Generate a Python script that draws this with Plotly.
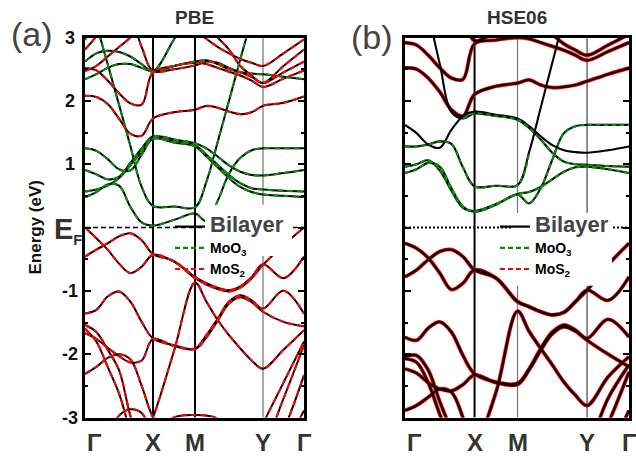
import plotly.graph_objects as go

# ---------------- data ----------------
K_LABELS = ["Γ", "X", "M", "Y", "Γ"]
K_NODES = [0.0, 0.3105, 0.5023, 0.8128, 1.0]
K = [0.0, 0.0518, 0.1035, 0.1553, 0.2070, 0.2588, 0.3105,
     0.4064, 0.5023,
     0.5541, 0.6058, 0.6576, 0.7093, 0.7611, 0.8128,
     0.9064, 1.0]

ENERGY_TICKS = [-3, -2, -1, 1, 2, 3]
ENERGY_MINOR = [-2.5, -1.5, -0.5, 0.5, 1.5, 2.5]

# PBE, MoO3 conduction bands (eV)
PBE_MOO3 = [
    [0.48, 0.56, 0.68, 0.66, 0.33, 0.08, 0.03, 0.12, 0.22, 0.10, 0.42, 0.85, 1.10, 1.22, 1.25, 1.25, 1.25],
    [0.57, 0.60, 0.66, 0.78, 0.98, 1.20, 1.41, 1.36, 1.30, 1.15, 0.99, 0.83, 0.70, 0.62, 0.60, 0.58, 0.57],
    [0.91, 0.84, 0.76, 0.80, 1.02, 1.25, 1.44, 1.39, 1.33, 1.25, 1.12, 0.98, 0.88, 0.83, 0.82, 0.86, 0.91],
    [1.25, 1.21, 1.08, 0.92, 0.90, 1.15, 1.40, 1.34, 1.28, 1.12, 0.95, 0.78, 0.64, 0.56, 0.52, 0.50, 0.48],
    [4.30, 3.25, 2.58, 1.94, 1.29, 0.64, 0.34, 0.33, 0.32, 0.72, 1.35, 2.00, 2.66, 3.30, 3.90, 4.40, 4.60],
    [2.62, 2.75, 2.79, 2.77, 2.70, 2.58, 2.47, 2.97, 3.50, 3.70, 3.80, 3.80, 3.70, 3.60, 3.50, 3.40, 3.30],
    [2.34, 2.42, 2.52, 2.58, 2.58, 2.52, 2.46, 2.55, 2.62, 2.64, 2.58, 2.50, 2.45, 2.43, 2.42, 2.38, 2.34],
]
# PBE, MoS2 bands (eV)
PBE_MOS2 = [
    [2.08, 2.06, 1.95, 1.72, 1.48, 1.45, 1.72, 1.82, 1.86, 1.92, 1.89, 1.83, 1.79, 1.82, 1.92, 1.97, 2.07],
    [2.52, 2.48, 2.32, 2.12, 1.96, 1.94, 2.45, 2.55, 2.60, 2.58, 2.52, 2.46, 2.40, 2.32, 2.22, 2.35, 2.48],
    [2.81, 3.02, 3.30, 3.40, 3.30, 2.85, 2.47, 2.50, 2.56, 2.62, 2.60, 2.52, 2.45, 2.38, 2.28, 2.45, 2.62],
    [2.47, 2.55, 2.70, 2.85, 3.00, 3.20, 3.30, 3.40, 3.40, 3.20, 3.00, 2.81, 2.55, 2.40, 2.28, 2.55, 2.81],
    [2.97, 3.20, 3.40, 3.50, 3.50, 3.40, 3.30, 3.20, 3.10, 2.98, 2.85, 2.75, 2.66, 2.60, 2.55, 2.75, 2.97],
    [0.00, -0.17, -0.35, -0.57, -0.72, -0.62, -0.43, -0.54, -0.80, -0.90, -0.97, -1.01, -0.95, -0.80, -0.59, -0.28, 0.00],
    [-0.46, -0.35, -0.25, -0.14, -0.09, -0.20, -0.42, -0.53, -0.78, -0.88, -0.95, -0.99, -0.93, -0.78, -0.58, -0.80, -0.46],
    [-3.80, -3.80, -3.80, -3.70, -3.60, -3.40, -3.00, -1.95, -0.87, -1.17, -1.46, -1.70, -1.91, -2.10, -2.23, -1.93, -1.62],
    [-1.36, -1.30, -1.09, -1.01, -1.17, -1.49, -1.75, -1.86, -1.91, -1.70, -1.44, -1.17, -1.07, -1.15, -1.28, -1.00, -1.36],
    [-1.67, -1.76, -1.90, -2.03, -2.13, -2.10, -1.76, -1.87, -1.92, -1.74, -1.47, -1.20, -1.10, -1.18, -1.33, -1.49, -1.56],
    [-1.54, -1.65, -1.93, -2.25, -2.97, -3.50, -3.80, -3.80, -3.80, -3.80, -3.80, -3.80, -3.70, -3.50, -3.10, -2.45, -1.80],
    [-1.60, -1.80, -2.20, -2.62, -3.20, -3.60, -3.80, -3.80, -3.80, -3.80, -3.80, -3.80, -3.80, -3.70, -3.50, -2.70, -1.86],
    [-2.31, -2.20, -2.06, -2.00, -2.08, -2.50, -3.00, -3.50, -3.80, -3.80, -3.80, -3.80, -3.80, -3.80, -3.80, -3.20, -2.33],
    [-3.80, -3.80, -3.80, -3.80, -3.80, -3.60, -3.30, -3.00, -2.96, -2.97, -3.02, -3.30, -3.60, -3.80, -3.80, -3.80, -3.80],
    [-3.60, -3.50, -3.30, -2.97, -2.87, -2.93, -3.30, -3.80, -3.80, -3.80, -3.80, -3.80, -3.80, -3.80, -4.00, -3.50, -2.89],
]

# HSE06, bilayer bands of MoO3 character (eV)
HSE_BILAYER_O3 = [
    [0.86, 0.92, 1.02, 0.96, 0.62, 0.33, 0.25, 0.36, 0.52, 0.38, 0.62, 1.07, 1.49, 1.60, 1.62, 1.62, 1.62],
    [0.96, 1.00, 1.06, 0.90, 0.58, 0.31, 0.26, 0.37, 0.53, 0.56, 0.64, 0.76, 0.88, 0.95, 0.96, 0.92, 0.86],
    [1.28, 1.28, 1.31, 1.36, 1.32, 0.95, 0.65, 0.66, 0.67, 1.19, 1.89, 2.60, 3.30, 3.90, 4.30, 4.50, 4.60],
    [4.30, 3.90, 3.35, 2.58, 1.82, 1.72, 1.80, 1.76, 1.70, 1.57, 1.39, 1.18, 1.04, 1.00, 0.99, 0.97, 0.96],
    [1.62, 1.49, 1.31, 1.26, 1.54, 1.76, 1.83, 1.78, 1.72, 1.60, 1.44, 1.30, 1.22, 1.19, 1.18, 1.22, 1.28],
]
# HSE06, MoO3 monolayer bands (None where not drawn)
HSE_MOO3 = [
    [0.86, 0.92, 1.02, 0.96, 0.62, 0.33, 0.25, 0.36, 0.52, 0.38, 0.62, 1.07, 1.49, 1.60, 1.62, 1.62, 1.62],
    [0.96, 1.00, 1.06, 0.90, 0.58, 0.31, 0.26, 0.37, 0.53, 0.56, 0.64, 0.76, 0.88, 0.95, 0.96, 0.92, 0.86],
    [1.28, 1.28, 1.31, 1.36, 1.32, 0.95, 0.65, 0.66, 0.67, 1.19, None, None, None, None, None, None, None],
    [None, None, None, None, None, 1.72, 1.80, 1.76, 1.70, 1.57, 1.39, 1.18, 1.04, 1.00, 0.99, 0.97, 0.96],
]
# HSE06, MoS2 bands (eV)
HSE_MOS2 = [
    [2.52, 2.50, 2.36, 2.14, 1.86, 1.76, 2.10, 2.23, 2.28, 2.33, 2.25, 2.21, 2.22, 2.25, 2.31, 2.42, 2.52],
    [2.92, 2.88, 2.72, 2.52, 2.36, 2.34, 2.90, 2.96, 3.00, 2.98, 2.92, 2.86, 2.80, 2.72, 2.64, 2.78, 2.92],
    [3.05, 3.20, 3.40, 3.50, 3.50, 3.30, 2.95, 3.10, 3.30, 3.30, 3.20, 3.05, 2.90, 2.80, 2.72, 2.88, 3.05],
    [-0.25, -0.33, -0.48, -0.72, -0.98, -0.88, -0.67, -0.80, -1.17, -1.25, -1.33, -1.38, -1.34, -1.17, -0.99, -0.59, -0.25],
    [-0.78, -0.67, -0.51, -0.38, -0.35, -0.46, -0.67, -0.80, -1.17, -1.25, -1.33, -1.38, -1.34, -1.17, -0.99, -1.15, -0.78],
    [-3.80, -3.80, -3.80, -3.80, -3.80, -3.70, -3.50, -2.60, -1.32, -1.64, -1.91, -2.17, -2.44, -2.65, -2.81, -2.36, -2.04],
    [-1.73, -1.78, -1.59, -1.49, -1.65, -2.02, -2.31, -2.44, -2.46, -2.23, -1.91, -1.65, -1.54, -1.62, -1.75, -1.45, -1.73],
    [-2.23, -2.30, -2.45, -2.55, -2.58, -2.48, -2.33, -2.45, -2.48, -2.25, -1.94, -1.68, -1.57, -1.64, -1.78, -2.00, -2.20],
    [-2.04, -2.02, -2.25, -2.75, -3.20, -3.60, -3.80, -3.80, -3.80, -3.80, -3.80, -3.80, -3.80, -3.70, -3.50, -2.70, -2.17],
    [-2.07, -2.13, -2.45, -2.95, -3.40, -3.80, -3.80, -3.80, -3.80, -3.80, -3.80, -3.80, -3.80, -3.80, -3.80, -3.10, -2.28],
    [-2.89, -2.81, -2.68, -2.55, -2.60, -3.00, -3.50, -3.80, -3.80, -3.80, -3.80, -3.80, -3.80, -3.80, -3.80, -3.50, -2.89],
]

# ---------------- figure ----------------
W, H = 636, 460
FONT = "Liberation Sans, Arial, sans-serif"
GREEN = "#0a8a0a"
RED = "#ff0000"

fig = go.Figure()


def band(y, xa, ya, color, width, dash=None):
    return go.Scatter(
        x=K, y=y, mode="lines", xaxis=xa, yaxis=ya, showlegend=False,
        hoverinfo="skip", connectgaps=False,
        line=dict(color=color, width=width, dash=dash, shape="spline", smoothing=1.0),
    )


# PBE panel: bilayer black solid, monolayers dashed on top
for b in PBE_MOO3 + PBE_MOS2:
    fig.add_trace(band(b, "x", "y", "black", 2.0))
for b in PBE_MOO3:
    fig.add_trace(band(b, "x", "y", GREEN, 2.0, "6px,4px"))
for b in PBE_MOS2:
    fig.add_trace(band(b, "x", "y", RED, 2.0, "6px,4px"))

# HSE06 panel
for b in HSE_MOS2:
    fig.add_trace(band(b, "x2", "y2", RED, 3.8))
for b in HSE_BILAYER_O3 + HSE_MOS2:
    fig.add_trace(band(b, "x2", "y2", "black", 2.1))
for b in HSE_MOO3:
    fig.add_trace(band(b, "x2", "y2", GREEN, 2.2, "5px,3px"))

# legend entries
for leg, xa, ya in [("legend", "x", "y"), ("legend2", "x2", "y2")]:
    fig.add_trace(go.Scatter(x=[None], y=[None], mode="lines", xaxis=xa, yaxis=ya, legend=leg,
                             line=dict(color="black", width=2.2),
                             name="<span style='font-size:22px;color:#444'><b>Bilayer</b></span>"))
    fig.add_trace(go.Scatter(x=[None], y=[None], mode="lines", xaxis=xa, yaxis=ya, legend=leg,
                             line=dict(color=GREEN, width=2.2, dash="5px,3px"),
                             name="<b>MoO<sub>3</sub></b>"))
    fig.add_trace(go.Scatter(x=[None], y=[None], mode="lines", xaxis=xa, yaxis=ya, legend=leg,
                             line=dict(color=RED, width=2.2, dash="5px,3px"),
                             name="<b>MoS<sub>2</sub></b>"))

xdom1 = [85 / W, 304 / W]
xdom2 = [405 / W, 629 / W]
ydom = [42.5 / H, 422.5 / H]

common_x = dict(range=[0, 1], showline=True, linewidth=2.5, linecolor="black", mirror=True,
                showgrid=False, zeroline=False, showticklabels=False, ticks="")
common_y = dict(range=[-3, 3], domain=ydom, showline=True, linewidth=2.5, linecolor="black",
                mirror="ticks", ticks="inside", tickvals=list(range(-3, 4)), ticklen=6,
                tickwidth=2, tickcolor="black", showgrid=False, zeroline=False,
                showticklabels=False,
                minor=dict(tickvals=ENERGY_MINOR, ticks="inside", ticklen=3.5, tickwidth=1.5,
                           tickcolor="black"))

legend_common = dict(xanchor="left", yanchor="top", bgcolor="rgba(0,0,0,0)",
                     font=dict(family=FONT, size=14, color="black"), itemwidth=30,
                     tracegroupgap=0, itemclick=False)

fig.update_layout(
    width=W, height=H, margin=dict(l=0, r=0, t=0, b=0), autosize=False,
    paper_bgcolor="white", plot_bgcolor="white", font=dict(family=FONT),
    xaxis=dict(domain=xdom1, anchor="y", **common_x),
    yaxis=dict(anchor="x", **common_y),
    xaxis2=dict(domain=xdom2, anchor="y2", **common_x),
    yaxis2=dict(anchor="x2", **common_y),
    legend=dict(x=170 / W, y=1 - 211 / H, **legend_common),
    legend2=dict(x=495 / W, y=1 - 211 / H, **legend_common),
)

shapes = []
line_styles = {
    "x": [("black", 2.0), ("black", 2.0), ("#555", 1.0)],
    "x2": [("black", 2.0), ("#777", 1.2), ("#444", 1.2)],
}
for xa, ya in [("x", "y"), ("x2", "y2")]:
    for k, (c, w) in zip(K_NODES[1:4], line_styles[xa]):
        shapes.append(dict(type="line", xref=xa, yref=ya, x0=k, x1=k, y0=-3, y1=3,
                           line=dict(color=c, width=w), layer="below"))
shapes.append(dict(type="line", xref="x", yref="y", x0=0, x1=1, y0=0, y1=0,
                   line=dict(color="black", width=1.6, dash="5px,3px"), layer="below"))
shapes.append(dict(type="line", xref="x2", yref="y2", x0=0, x1=1, y0=0, y1=0,
                   line=dict(color="black", width=2.0, dash="2px,2px"), layer="below"))
# white backing behind the legends
shapes.append(dict(type="rect", xref="x", yref="y", x0=0.548, x1=0.945, y0=-0.45, y1=0.36,
                   fillcolor="white", line=dict(width=0), layer="above"))
shapes.append(dict(type="rect", xref="x2", yref="y2", x0=0.482, x1=0.924, y0=-0.92, y1=0.23,
                   fillcolor="white", line=dict(width=0), layer="above"))
fig.update_layout(shapes=shapes)

ann = []
for v in ENERGY_TICKS:
    ann.append(dict(text=f"<b>{v}</b>", x=70 / W, xref="paper", y=v, yref="y",
                    xanchor="center", yanchor="middle", showarrow=False,
                    font=dict(family=FONT, size=18, color="#111")))
ann.append(dict(text="<b>E<sub><span style='font-size:15px'>F</span></sub></b>", x=52 / W, xref="paper",
                y=0, yref="y", xanchor="left", yanchor="middle", yshift=-3, showarrow=False,
                font=dict(family=FONT, size=29, color="#333")))
ann.append(dict(text="<b>Energy (eV)</b>", x=35 / W, xref="paper", y=1 - 227.5 / H, yref="paper",
                xanchor="center", yanchor="middle", textangle=-90, showarrow=False,
                font=dict(family=FONT, size=17, color="#111")))
ann.append(dict(text="<b>PBE</b>", x=194.5 / W, xref="paper", y=1 - 17 / H, yref="paper",
                xanchor="center", yanchor="middle", showarrow=False,
                font=dict(family=FONT, size=19, color="#333")))
ann.append(dict(text="<b>HSE06</b>", x=517 / W, xref="paper", y=1 - 17 / H, yref="paper",
                xanchor="center", yanchor="middle", showarrow=False,
                font=dict(family=FONT, size=19, color="#333")))
ann.append(dict(text="(a)", x=32 / W, xref="paper", y=1 - 34 / H, yref="paper",
                xanchor="center", yanchor="middle", showarrow=False,
                font=dict(family=FONT, size=34, color="#444")))
ann.append(dict(text="(b)", x=372 / W, xref="paper", y=1 - 37 / H, yref="paper",
                xanchor="center", yanchor="middle", showarrow=False,
                font=dict(family=FONT, size=34, color="#444")))
for xa in ["x", "x2"]:
    for i, (lab, k) in enumerate(zip(K_LABELS, K_NODES)):
        ann.append(dict(text=f"<b>{lab}</b>", x=k, xref=xa, y=1 - 442 / H, yref="paper",
                        xanchor="left" if i == 0 else "center", yanchor="middle",
                        showarrow=False, font=dict(family=FONT, size=24, color="#333")))
fig.update_layout(annotations=ann)

fig.write_html("out.html")
